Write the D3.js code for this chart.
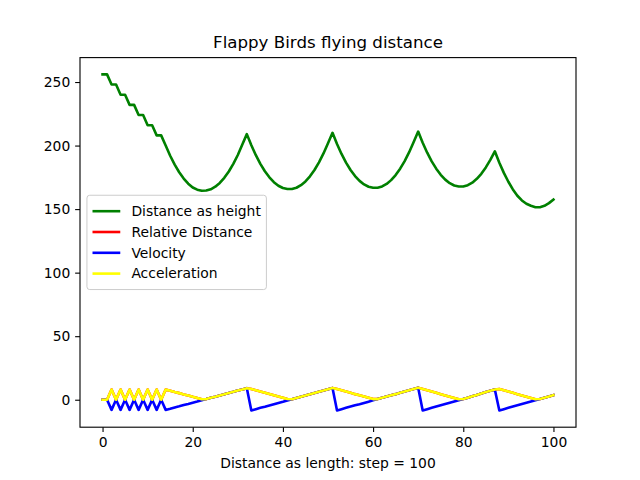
<!DOCTYPE html>
<html>
<head>
<meta charset="utf-8">
<script src="https://cdn.jsdelivr.net/npm/d3@7"></script>
<style>
    body { margin: 0; background: #fff; }
    svg { font-family: "DejaVu Sans", sans-serif; }
</style>
</head>
<body>
<svg id="chart" width="640" height="480"></svg>
<script>
// x = step index 0..100
const steps = d3.range(0, 101);

const heightVals = [
    256, 256, 248, 248, 240, 240, 232, 232, 224, 224,
    216, 216, 208, 208, 200, 192, 185, 179, 174, 170,
    167, 165.3, 164.4, 164.6, 165.6, 167.6, 170.6, 174.6, 179.6, 185.6,
    192.6, 200.8, 209, 200.2, 192.4, 185.6, 179.8, 175, 171.2, 168.4,
    166.6, 165.8, 165.8, 166.8, 168.8, 171.8, 175.8, 180.8, 186.8, 193.8,
    201.8, 210, 201.2, 193.4, 186.6, 180.8, 176, 172.2, 169.4, 167.6,
    166.8, 166.8, 167.8, 169.8, 172.8, 176.8, 181.8, 187.8, 194.8, 202.8,
    211, 202.2, 194.4, 187.6, 181.8, 177, 173.2, 170.4, 168.6, 167.8,
    167.8, 168.8, 170.8, 173.8, 177.8, 182.8, 188.8, 195.5, 186.5, 178.5,
    171.5, 165.5, 160.5, 156.8, 154.2, 152.6, 151.5, 151.5, 152.6, 154.7,
    157.5
];

const velocityVals = [
    0, 0, -8, 0, -8, 0, -8, 0, -8, 0,
    -8, 0, -8, 0, -8, -7.1, -6.1, -5.2, -4.2, -3.3,
    -2.3, -1.4, -0.4, 0.5, 1.5, 2.4, 3.4, 4.3, 5.3, 6.2,
    7.2, 8.1, 9.1, -8.4, -7.4, -6.4, -5.5, -4.5, -3.5, -2.5,
    -1.6, -0.6, 0.4, 1.4, 2.4, 3.3, 4.3, 5.3, 6.3, 7.2,
    8.2, 9.2, -8.4, -7.4, -6.4, -5.4, -4.4, -3.5, -2.5, -1.5,
    -0.5, 0.5, 1.5, 2.5, 3.5, 4.4, 5.4, 6.4, 7.4, 8.4,
    9.4, -8.4, -7.4, -6.4, -5.4, -4.4, -3.4, -2.4, -1.4, -0.4,
    0.6, 1.6, 2.7, 3.8, 4.9, 6.0, 7.0, 8.0, -8.4, -7.4,
    -6.4, -5.4, -4.4, -3.4, -2.4, -1.4, -0.4, 0.6, 1.6, 2.6,
    3.6
];

const accelVals = [
    0, 0, 8, 0, 8, 0, 8, 0, 8, 0,
    8, 0, 8, 0, 8, 7.1, 6.1, 5.2, 4.2, 3.3,
    2.3, 1.4, 0.4, 0.5, 1.5, 2.4, 3.4, 4.3, 5.3, 6.2,
    7.2, 8.1, 9.1, 8.4, 7.4, 6.4, 5.5, 4.5, 3.5, 2.5,
    1.6, 0.6, 0.4, 1.4, 2.4, 3.3, 4.3, 5.3, 6.3, 7.2,
    8.2, 9.2, 8.4, 7.4, 6.4, 5.4, 4.4, 3.5, 2.5, 1.5,
    0.5, 0.5, 1.5, 2.5, 3.5, 4.4, 5.4, 6.4, 7.4, 8.4,
    9.4, 8.4, 7.4, 6.4, 5.4, 4.4, 3.4, 2.4, 1.4, 0.4,
    0.6, 1.6, 2.7, 3.8, 4.9, 6.0, 7.0, 8.0, 8.4, 7.4,
    6.4, 5.4, 4.4, 3.4, 2.4, 1.4, 0.4, 0.6, 1.6, 2.6,
    3.6
];

// relative distance sits right under the acceleration line
const relDistVals = accelVals.slice();

const seriesNames = ["Distance as height", "Relative Distance", "Velocity", "Acceleration"];
const seriesColors = ["green", "red", "blue", "yellow"];
const seriesData = [heightVals, relDistVals, velocityVals, accelVals];

const xTicks = [0, 20, 40, 60, 80, 100];
const yTicks = [0, 50, 100, 150, 200, 250];

const titleText = "Flappy Birds flying distance";
const xLabelText = "Distance as length: step = 100";

// figure geometry (matplotlib defaults at 100 dpi)
const axL = 80, axR = 576, axT = 57.6, axB = 427.2;
const pt = 100 / 72;
const lineW = 2.6;

const svg = d3.select("#chart");

// 5% margins like matplotlib autoscale
const allY = [].concat(...seriesData);
const yMin = d3.min(allY), yMax = d3.max(allY);
const xMin = d3.min(steps), xMax = d3.max(steps);
const xPad = (xMax - xMin) * 0.05, yPad = (yMax - yMin) * 0.05;

const x = d3.scaleLinear().domain([xMin - xPad, xMax + xPad]).range([axL, axR]);
const y = d3.scaleLinear().domain([yMin - yPad, yMax + yPad]).range([axB, axT]);

svg.append("defs").append("clipPath").attr("id", "clip")
    .append("rect")
    .attr("x", axL).attr("y", axT)
    .attr("width", axR - axL).attr("height", axB - axT);

const plot = svg.append("g");

const line = d3.line()
    .x(function (d, i) { return x(steps[i]); })
    .y(function (d) { return y(d); });

seriesData.forEach(function (vals, k) {
    plot.append("path")
        .datum(vals)
        .attr("clip-path", "url(#clip)")
        .attr("fill", "none")
        .attr("stroke", seriesColors[k])
        .attr("stroke-width", lineW)
        .attr("stroke-linejoin", "round")
        .attr("stroke-linecap", "square")
        .attr("d", line);
});

// axes
const tickLen = 3.5 * pt, tickPad = 3.5 * pt;
const xAxis = d3.axisBottom(x).tickValues(xTicks).tickSize(tickLen).tickPadding(tickPad).tickFormat(d3.format("d"));
const yAxis = d3.axisLeft(y).tickValues(yTicks).tickSize(tickLen).tickPadding(tickPad).tickFormat(d3.format("d"));

const gx = svg.append("g").attr("transform", "translate(0," + axB + ")").call(xAxis);
const gy = svg.append("g").attr("transform", "translate(" + axL + ",0)").call(yAxis);

[gx, gy].forEach(function (g) {
    g.select(".domain").remove();
    g.selectAll(".tick line").attr("stroke", "#000").attr("stroke-width", 0.8 * pt);
    g.selectAll(".tick text")
        .attr("fill", "#000")
        .style("font-family", "DejaVu Sans")
        .style("font-size", (10 * pt) + "px");
});

// spines
svg.append("rect")
    .attr("x", axL).attr("y", axT)
    .attr("width", axR - axL).attr("height", axB - axT)
    .attr("fill", "none")
    .attr("stroke", "#000")
    .attr("stroke-width", 0.8 * pt);

svg.append("text")
    .attr("x", (axL + axR) / 2)
    .attr("y", axT - 6 * pt - 1)
    .attr("text-anchor", "middle")
    .style("font-size", (12 * pt) + "px")
    .text(titleText);

svg.append("text")
    .attr("x", (axL + axR) / 2)
    .attr("y", 468)
    .attr("text-anchor", "middle")
    .style("font-size", (10 * pt) + "px")
    .text(xLabelText);

// legend, center left
const fs = 10 * pt;
const rowH = 20.8;
const lgX = axL + 0.5 * fs;
const lgH = 2 * 0.4 * fs + seriesNames.length * rowH;
const lgY = (axT + axB) / 2 - lgH / 2;

const legend = svg.append("g");
const box = legend.append("rect")
    .attr("x", lgX).attr("y", lgY)
    .attr("height", lgH)
    .attr("rx", 0.2 * fs).attr("ry", 0.2 * fs)
    .attr("fill", "#fff").attr("fill-opacity", 0.8)
    .attr("stroke", "#cccccc").attr("stroke-width", 1);

let maxW = 0;
seriesNames.forEach(function (name, i) {
    const cy = lgY + 0.4 * fs + rowH * i + rowH / 2;
    legend.append("line")
        .attr("x1", lgX + 0.4 * fs).attr("x2", lgX + 0.4 * fs + 2 * fs)
        .attr("y1", cy).attr("y2", cy)
        .attr("stroke", seriesColors[i])
        .attr("stroke-width", lineW);
    const t = legend.append("text")
        .attr("x", lgX + 0.4 * fs + 2.8 * fs)
        .attr("y", cy)
        .attr("dy", "0.35em")
        .style("font-size", fs + "px")
        .text(name);
    maxW = Math.max(maxW, t.node().getComputedTextLength());
});
box.attr("width", 0.4 * fs + 2.8 * fs + maxW + 0.4 * fs);
</script>
</body>
</html>
